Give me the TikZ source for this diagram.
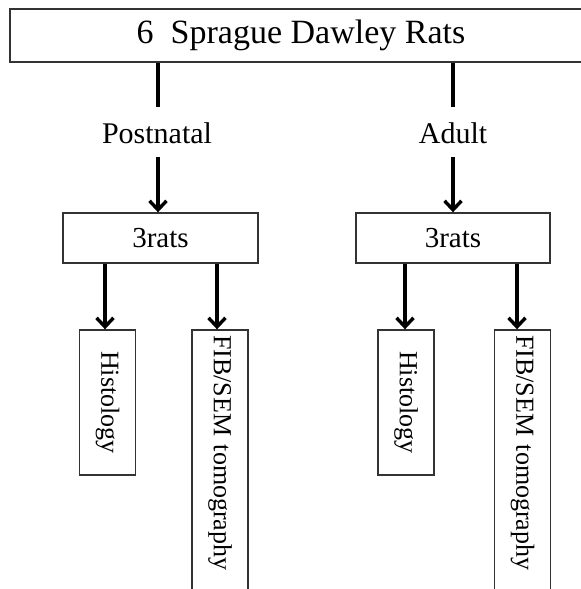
\documentclass[tikz,border=0pt]{standalone}
\usepackage{fontspec}
\setmainfont{Liberation Serif}
\usetikzlibrary{arrows.meta}
\tikzset{
  box/.style={draw=black!80, line width=1.4bp, fill=white, inner sep=0pt},
  conn/.style={line width=3.6bp, black},
  arr/.style={conn, -{Straight Barb[length=9bp,width=17bp,line width=3.4bp]}},
  lbl/.style={font=\fontsize{30bp}{34bp}\selectfont, inner sep=0pt, anchor=base},
  vbox/.style={box, rotate=-90, font=\fontsize{26bp}{30bp}\selectfont, minimum height=56bp}
}
\begin{document}
\begin{tikzpicture}[x=1bp,y=-1bp]
\useasboundingbox (0,0) rectangle (581,589);
\clip (0,0) rectangle (581,589);
\fill[white] (0,0) rectangle (581,589);

% top box (runs off the right edge)
\node[box, minimum width=582bp, minimum height=53bp, font=\fontsize{34bp}{40bp}\selectfont] (top) at (301,35.5) {6~~Sprague Dawley Rats};

% labels
\node[lbl] (post) at (157,144) {Postnatal};
\node[lbl] (adult) at (453,144) {Adult};

% 3rats boxes
\node[box, minimum width=195bp, minimum height=50bp, font=\fontsize{29bp}{33bp}\selectfont] (r1) at (160.5,238) {3rats};
\node[box, minimum width=194bp, minimum height=50bp, font=\fontsize{29bp}{33bp}\selectfont] (r2) at (453,238) {3rats};

% vertical boxes
\node[vbox, minimum width=145bp] (h1) at (107.5,402.5) {Histology};
\node[vbox, minimum width=290bp, text width=280bp, align=left, inner xsep=5bp] (f1) at (220,475) {FIB/SEM tomography};
\node[vbox, minimum width=145bp] (h2) at (406,402.5) {Histology};
\node[vbox, minimum width=290bp, text width=280bp, align=left, inner xsep=5bp] (f2) at (522.5,475) {FIB/SEM tomography};

% connectors: top box to labels
\coordinate (pl) at (158,107);
\coordinate (al) at (453,107);
\coordinate (pa) at (158,157);
\coordinate (aa) at (453,157);
\draw[conn] (top.south -| pl) -- (pl);
\draw[conn] (top.south -| al) -- (al);
\draw[arr] (pa) -- (r1.north -| pa);
\draw[arr] (aa) -- (r2.north -| aa);

% connectors: 3rats to leaves
\coordinate (x1) at (105,0);
\coordinate (x2) at (217,0);
\coordinate (x3) at (405,0);
\coordinate (x4) at (517,0);
\draw[arr] (r1.south -| x1) -- (h1.west -| x1);
\draw[arr] (r1.south -| x2) -- (f1.west -| x2);
\draw[arr] (r2.south -| x3) -- (h2.west -| x3);
\draw[arr] (r2.south -| x4) -- (f2.west -| x4);
\end{tikzpicture}
\end{document}
